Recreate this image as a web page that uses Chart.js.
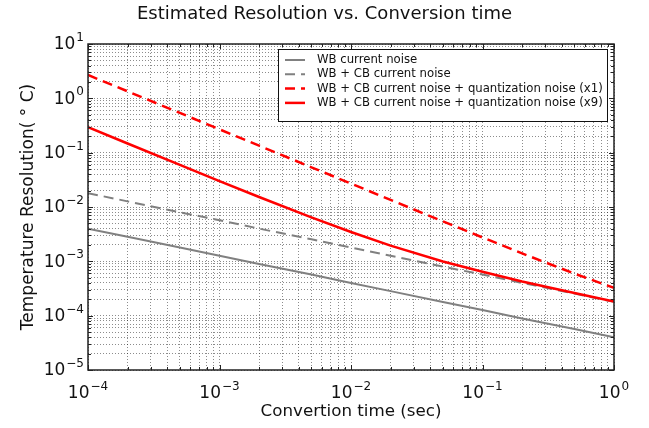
<!DOCTYPE html>
<html>
<head>
<meta charset="utf-8">
<script src="https://cdn.jsdelivr.net/npm/chart.js@4/dist/chart.umd.min.js"></script>
<style>
  html, body { margin: 0; padding: 0; background: #ffffff; }
  #wrap { width: 649px; height: 428px; }
</style>
</head>
<body>
<div id="wrap"><canvas id="c" width="649" height="428"></canvas></div>
<script>
// Conversion time samples (seconds)
const times = [1e-4, 2e-4, 5e-4, 1e-3, 2e-3, 5e-3, 1e-2, 2e-2, 5e-2, 1e-1, 2e-1, 5e-1, 1];

// Estimated temperature resolution (deg C) for each noise budget
const wbNoise   = [4.0e-3, 2.83e-3, 1.79e-3, 1.27e-3, 8.9e-4, 5.7e-4, 4.0e-4, 2.83e-4, 1.79e-4, 1.27e-4, 8.9e-5, 5.7e-5, 4.0e-5];
const wbCbNoise = [1.8e-2, 1.27e-2, 8.0e-3, 5.7e-3, 4.0e-3, 2.55e-3, 1.8e-3, 1.27e-3, 8.0e-4, 5.7e-4, 4.0e-4, 2.55e-4, 1.8e-4];
const quantX1   = [2.69, 1.345, 0.538, 0.269, 0.1345, 0.0538, 2.70e-2, 1.35e-2, 5.44e-3, 2.75e-3, 1.40e-3, 5.95e-4, 3.24e-4];
const quantX9   = [0.295, 0.1475, 0.0595, 3.0e-2, 1.53e-2, 6.43e-3, 3.46e-3, 1.95e-3, 9.94e-4, 6.42e-4, 4.26e-4, 2.62e-4, 1.82e-4];

const seriesLabels = [
  'WB current noise',
  'WB + CB current noise',
  'WB + CB current noise + quantization noise (x1)',
  'WB + CB current noise + quantization noise (x9)'
];

// Decade exponents that carry a "10^n" label
const xTickExponents = [-4, -3, -2, -1, 0];
const yTickExponents = [-5, -4, -3, -2, -1, 0, 1];

const FONT = 'DejaVu Sans';
const INK = '#111111';
const GRAY = '#808080';
const RED = '#ff0000';
const DASH = [10, 6];

function toPoints(values) {
  return times.map((t, i) => ({ x: t, y: values[i] }));
}

// Major and minor (2..9) ticks for a log axis spanning whole decades
function decadeTicks(exponents) {
  const ticks = [];
  const lo = exponents[0], hi = exponents[exponents.length - 1];
  for (let e = lo; e < hi; e++) {
    for (let m = 1; m <= 9; m++) {
      ticks.push({ value: parseFloat((m * Math.pow(10, e)).toPrecision(6)), major: m === 1 });
    }
  }
  ticks.push({ value: Math.pow(10, hi), major: true });
  return ticks;
}

// Frame, inward tick marks and power-of-ten labels
const axesDecor = {
  id: 'axesDecor',
  afterLayout(chart) {
    // keep the title centred on the whole canvas
    const tb = chart.titleBlock;
    if (tb) { tb.left = 0; tb.right = chart.width; tb.width = chart.width; }
  },
  afterDatasetsDraw(chart) {
    const { ctx, chartArea: a, scales: { x, y } } = chart;
    ctx.save();
    // inward ticks on all four sides
    ctx.strokeStyle = '#222';
    ctx.lineWidth = 1;
    x.ticks.forEach(t => {
      const px = Math.round(x.getPixelForValue(t.value)) + 0.5;
      const len = t.major ? 5 : 3;
      ctx.beginPath();
      ctx.moveTo(px, a.bottom); ctx.lineTo(px, a.bottom - len);
      ctx.moveTo(px, a.top); ctx.lineTo(px, a.top + len);
      ctx.stroke();
    });
    y.ticks.forEach(t => {
      const py = Math.round(y.getPixelForValue(t.value)) + 0.5;
      const len = t.major ? 5 : 3;
      ctx.beginPath();
      ctx.moveTo(a.left, py); ctx.lineTo(a.left + len, py);
      ctx.moveTo(a.right, py); ctx.lineTo(a.right - len, py);
      ctx.stroke();
    });
    // frame
    ctx.lineWidth = 1.5;
    ctx.strokeStyle = '#222';
    ctx.strokeRect(a.left, a.top, a.right - a.left, a.bottom - a.top);

    // power-of-ten labels
    const baseFont = '17px "' + FONT + '"';
    const expFont = '12px "' + FONT + '"';
    ctx.fillStyle = INK;
    ctx.textBaseline = 'middle';
    const drawPow = (exp, cx, cy, anchor) => {
      const expText = String(exp).replace('-', '\u2212');
      ctx.font = baseFont;
      const wb = ctx.measureText('10').width;
      ctx.font = expFont;
      const we = ctx.measureText(expText).width;
      const total = wb + we + 1;
      const left = anchor === 'right' ? cx - total : cx - total / 2;
      ctx.textAlign = 'left';
      ctx.font = baseFont;
      ctx.fillText('10', left, cy);
      ctx.font = expFont;
      ctx.fillText(expText, left + wb + 1, cy - 7);
    };
    yTickExponents.forEach(e => drawPow(e, a.left - 4, y.getPixelForValue(Math.pow(10, e)) + 1, 'right'));
    xTickExponents.forEach(e => drawPow(e, x.getPixelForValue(Math.pow(10, e)), a.bottom + 24, 'center'));
    ctx.restore();
  }
};

// Boxed legend in the upper right of the plot area
const boxedLegend = {
  id: 'boxedLegend',
  afterDraw(chart) {
    const { ctx, chartArea: a } = chart;
    const w = 330, h = 73;
    const bx = a.right - 6 - w, by = a.top + 5;
    ctx.save();
    ctx.fillStyle = '#ffffff';
    ctx.fillRect(bx, by, w, h);
    ctx.strokeStyle = '#111';
    ctx.lineWidth = 1;
    ctx.strokeRect(bx + 0.5, by + 0.5, w - 1, h - 1);
    ctx.font = '11.7px "' + FONT + '"';
    ctx.textBaseline = 'middle';
    ctx.textAlign = 'left';
    chart.data.datasets.forEach((ds, i) => {
      const ry = by + 11 + i * 14.3;
      ctx.strokeStyle = ds.borderColor;
      ctx.lineWidth = ds.borderWidth;
      ctx.setLineDash(ds.borderDash || []);
      ctx.beginPath();
      ctx.moveTo(bx + 7, ry);
      ctx.lineTo(bx + 27, ry);
      ctx.stroke();
      ctx.setLineDash([]);
      ctx.fillStyle = INK;
      ctx.fillText(ds.label, bx + 39, ry);
    });
    ctx.restore();
  }
};

const gridStyle = { color: 'rgba(0,0,0,0.45)', lineWidth: 1, drawTicks: false };
const gridBorder = { display: false, dash: [1, 2] };

new Chart(document.getElementById('c'), {
  type: 'line',
  data: {
    datasets: [
      { label: seriesLabels[0], data: toPoints(wbNoise), borderColor: GRAY, borderWidth: 2, order: 4 },
      { label: seriesLabels[1], data: toPoints(wbCbNoise), borderColor: GRAY, borderWidth: 2, borderDash: DASH, order: 3 },
      { label: seriesLabels[2], data: toPoints(quantX1), borderColor: RED, borderWidth: 2.5, borderDash: DASH, order: 2 },
      { label: seriesLabels[3], data: toPoints(quantX9), borderColor: RED, borderWidth: 2.5, order: 1 }
    ]
  },
  options: {
    responsive: false,
    animation: false,
    devicePixelRatio: 1,
    layout: { padding: { left: 0, right: 35, top: 0, bottom: 0 } },
    elements: { point: { radius: 0 }, line: { tension: 0, fill: false } },
    plugins: {
      legend: { display: false },
      tooltip: { enabled: false },
      title: {
        display: true,
        text: 'Estimated Resolution vs. Conversion time',
        color: INK,
        font: { family: FONT, size: 18, weight: 'normal' },
        padding: { top: 3.5, bottom: 18.9 }
      }
    },
    scales: {
      x: {
        type: 'logarithmic',
        position: 'bottom',
        min: Math.pow(10, xTickExponents[0]),
        max: Math.pow(10, xTickExponents[xTickExponents.length - 1]),
        grid: gridStyle,
        border: gridBorder,
        ticks: { display: false },
        title: {
          display: true,
          text: 'Convertion time (sec)',
          color: INK,
          font: { family: FONT, size: 16.7 },
          padding: { top: 0, bottom: 6 }
        },
        afterBuildTicks: s => { s.ticks = decadeTicks(xTickExponents); },
        afterFit: s => { s.height = 58; }
      },
      y: {
        type: 'logarithmic',
        position: 'left',
        min: Math.pow(10, yTickExponents[0]),
        max: Math.pow(10, yTickExponents[yTickExponents.length - 1]),
        grid: gridStyle,
        border: gridBorder,
        ticks: { display: false },
        title: {
          display: true,
          text: 'Temperature Resolution( ° C)',
          color: INK,
          font: { family: FONT, size: 17 },
          padding: { top: 18, bottom: 0 }
        },
        afterBuildTicks: s => { s.ticks = decadeTicks(yTickExponents); },
        afterFit: s => { s.width = 88; }
      }
    }
  },
  plugins: [axesDecor, boxedLegend]
});
</script>
</body>
</html>
